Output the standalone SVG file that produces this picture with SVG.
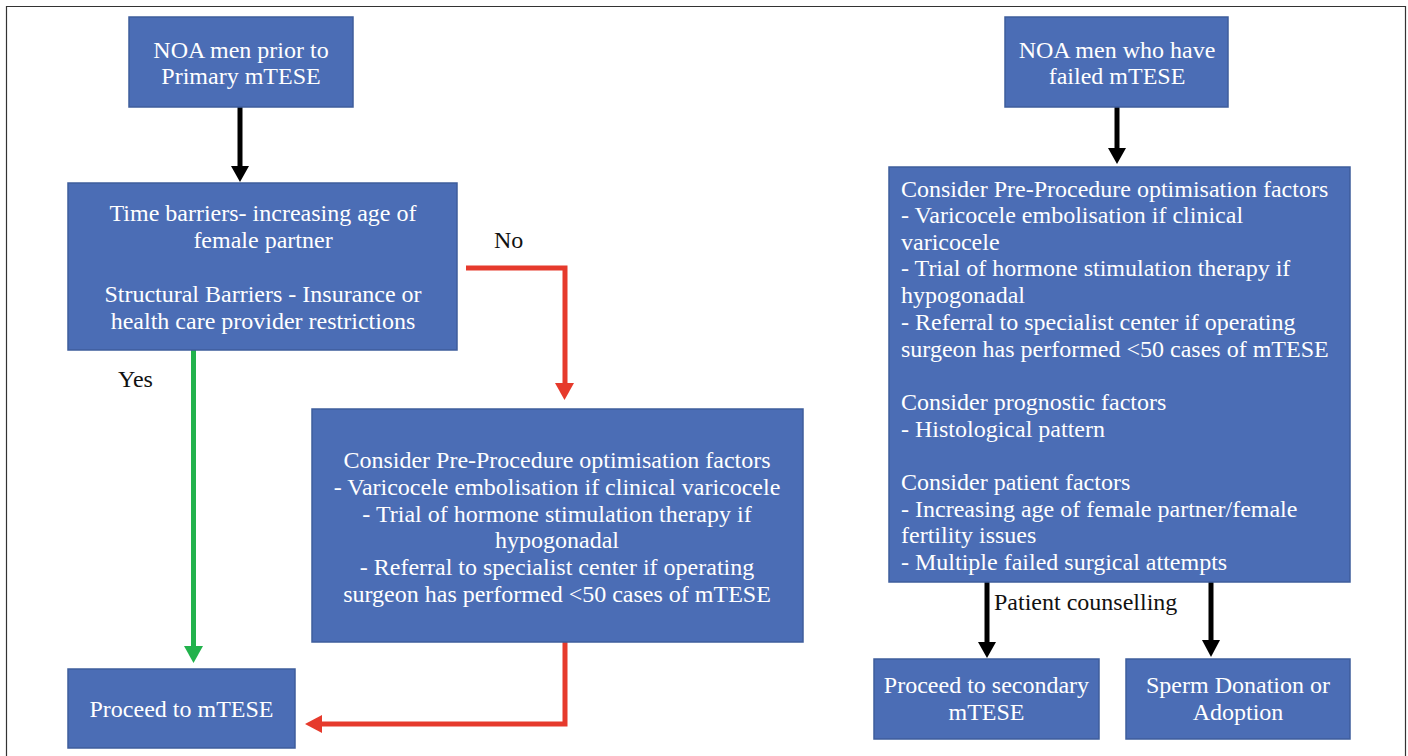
<svg xmlns="http://www.w3.org/2000/svg" width="1408" height="756" viewBox="0 0 1408 756">
<style>
.box{fill:#4b6db5;stroke:#3e5d9c;stroke-width:1.5}
.t{font-family:"Liberation Serif","Times New Roman",serif;font-size:24px;fill:#ffffff}
.c{text-anchor:middle}
.lbl{font-family:"Liberation Serif","Times New Roman",serif;font-size:24px;fill:#111111}
.blk{stroke:#000;stroke-width:5;fill:none}
.red{stroke:#e63a2c;stroke-width:5;fill:none}
.grn{stroke:#22b24c;stroke-width:5;fill:none}
</style>
<rect x="0" y="0" width="1408" height="756" fill="#ffffff"/>
<path d="M6.5,760 V6.5 H1405.5 V760" fill="none" stroke="#333333" stroke-width="1.2"/>

<g id="connectors">
  <line class="blk" x1="240" y1="107" x2="240" y2="168"/>
  <polygon points="231,166 249,166 240,182" fill="#000"/>
  <line class="blk" x1="1117" y1="107" x2="1117" y2="150"/>
  <polygon points="1108,148 1126,148 1117,164" fill="#000"/>
  <line class="grn" x1="193.5" y1="350" x2="193.5" y2="648"/>
  <polygon points="184,646 203,646 193.5,663" fill="#22b24c"/>
  <path class="red" d="M466,268 H565 V386"/>
  <polygon points="555,383 574,383 564.5,400" fill="#e63a2c"/>
  <path class="red" d="M565,642 V724 H320"/>
  <polygon points="322,715 322,733 305,724" fill="#e63a2c"/>
  <line class="blk" x1="987" y1="582" x2="987" y2="644"/>
  <polygon points="978,642 996,642 987,658" fill="#000"/>
  <line class="blk" x1="1211" y1="582" x2="1211" y2="642"/>
  <polygon points="1202,640 1220,640 1211,657" fill="#000"/>
  <text class="lbl" x="494" y="248">No</text>
  <text class="lbl" x="118" y="387">Yes</text>
  <text class="lbl" x="994" y="610">Patient counselling</text>
</g>

<g id="n1">
  <rect class="box" x="129" y="17" width="224" height="90"/>
  <text class="t c" x="241" y="58">NOA men prior to</text>
  <text class="t c" x="241" y="84">Primary mTESE</text>
</g>
<g id="n2">
  <rect class="box" x="68" y="183" width="389" height="167"/>
  <text class="t c" x="263" y="221">Time barriers- increasing age of</text>
  <text class="t c" x="263" y="248">female partner</text>
  <text class="t c" x="263" y="302">Structural Barriers - Insurance or</text>
  <text class="t c" x="263" y="329">health care provider restrictions</text>
</g>
<g id="n3">
  <rect class="box" x="312" y="409" width="491" height="233"/>
  <text class="t c" x="557" y="468">Consider Pre-Procedure optimisation factors</text>
  <text class="t c" x="557" y="495">- Varicocele embolisation if clinical varicocele</text>
  <text class="t c" x="557" y="522">- Trial of hormone stimulation therapy if</text>
  <text class="t c" x="557" y="548">hypogonadal</text>
  <text class="t c" x="557" y="575">- Referral to specialist center if operating</text>
  <text class="t c" x="557" y="602">surgeon has performed &lt;50 cases of mTESE</text>
</g>
<g id="n4">
  <rect class="box" x="68" y="669" width="227" height="79"/>
  <text class="t c" x="181.5" y="717">Proceed to mTESE</text>
</g>
<g id="n5">
  <rect class="box" x="1005" y="17" width="223" height="90"/>
  <text class="t c" x="1117" y="58">NOA men who have</text>
  <text class="t c" x="1117" y="84">failed mTESE</text>
</g>
<g id="n6">
  <rect class="box" x="889" y="167" width="461" height="415"/>
  <text class="t" x="901" y="197">Consider Pre-Procedure optimisation factors</text>
  <text class="t" x="901" y="223">- Varicocele embolisation if clinical</text>
  <text class="t" x="901" y="250">varicocele</text>
  <text class="t" x="901" y="276">- Trial of hormone stimulation therapy if</text>
  <text class="t" x="901" y="303">hypogonadal</text>
  <text class="t" x="901" y="330">- Referral to specialist center if operating</text>
  <text class="t" x="901" y="357">surgeon has performed &lt;50 cases of mTESE</text>
  <text class="t" x="901" y="410">Consider prognostic factors</text>
  <text class="t" x="901" y="437">- Histological pattern</text>
  <text class="t" x="901" y="490">Consider patient factors</text>
  <text class="t" x="901" y="517">- Increasing age of female partner/female</text>
  <text class="t" x="901" y="543">fertility issues</text>
  <text class="t" x="901" y="570">- Multiple failed surgical attempts</text>
</g>
<g id="n7">
  <rect class="box" x="874" y="659" width="225" height="80"/>
  <text class="t c" x="986.5" y="693">Proceed to secondary</text>
  <text class="t c" x="986.5" y="720">mTESE</text>
</g>
<g id="n8">
  <rect class="box" x="1126" y="659" width="224" height="80"/>
  <text class="t c" x="1238" y="693">Sperm Donation or</text>
  <text class="t c" x="1238" y="720">Adoption</text>
</g>
</svg>
